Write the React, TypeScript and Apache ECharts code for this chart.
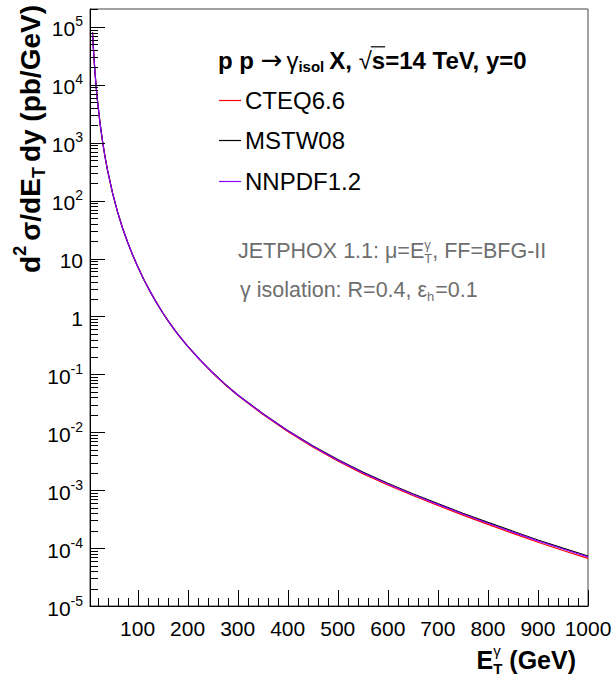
import React, { useEffect, useRef } from 'react';
import * as echarts from 'echarts';

// ---------------- data ----------------
const energies = [10, 12, 15, 17.5, 20, 25, 30, 35, 40, 50, 60, 70, 80, 90, 100, 112.5, 125, 137.5, 150, 162.5, 175, 187.5, 200, 225, 250, 275, 300, 350, 400, 450, 500, 550, 600, 650, 700, 750, 800, 850, 900, 950, 1000];
const cteq66 = [8.0e4, 3.9e4, 1.62e4, 8.9e3, 5.25e3, 2.18e3, 1.06e3, 573, 336, 136, 63.9, 33.7, 19.3, 11.6, 7.35, 4.35, 2.71, 1.75, 1.17, 0.809, 0.57, 0.415, 0.308, 0.176, 0.1057, 0.0663, 0.0434, 0.0205, 0.01035, 5.58e-3, 3.19e-3, 1.93e-3, 1.23e-3, 8.1e-4, 5.45e-4, 3.71e-4, 2.57e-4, 1.8e-4, 1.26e-4, 9.1e-5, 6.63e-5];
const mstw08 = [8.0e4, 3.9e4, 1.62e4, 8.9e3, 5.25e3, 2.18e3, 1.06e3, 573, 336, 136, 63.9, 33.7, 19.3, 11.6, 7.35, 4.35, 2.71, 1.75, 1.17, 0.809, 0.57, 0.415, 0.308, 0.178, 0.1075, 0.0677, 0.0446, 0.0212, 0.01078, 5.85e-3, 3.37e-3, 2.05e-3, 1.315e-3, 8.68e-4, 5.86e-4, 4.0e-4, 2.78e-4, 1.955e-4, 1.377e-4, 1.0e-4, 7.3e-5];
const nnpdf12 = [8.0e4, 3.9e4, 1.62e4, 8.9e3, 5.25e3, 2.18e3, 1.06e3, 573, 336, 136, 63.9, 33.7, 19.3, 11.6, 7.35, 4.35, 2.71, 1.75, 1.17, 0.809, 0.57, 0.415, 0.308, 0.177, 0.1067, 0.0671, 0.0441, 0.0209, 0.0106, 5.74e-3, 3.3e-3, 2.0e-3, 1.28e-3, 8.44e-4, 5.69e-4, 3.88e-4, 2.69e-4, 1.89e-4, 1.33e-4, 9.65e-5, 7.05e-5];

const seriesNames = ['CTEQ6.6', 'MSTW08', 'NNPDF1.2'];
const seriesColors = ['#ff0000', '#000000', '#9000ff'];

const xMin = 5;
const xMax = 1000;
const yMin = 1e-5;
const yMax = 2.04e5;
const xMajorTicks = [100, 200, 300, 400, 500, 600, 700, 800, 900, 1000];
const xMinorTicks = [20, 40, 60, 80, 120, 140, 160, 180, 220, 240, 260, 280, 320, 340, 360, 380, 420, 440, 460, 480, 520, 540, 560, 580, 620, 640, 660, 680, 720, 740, 760, 780, 820, 840, 860, 880, 920, 940, 960, 980];
const yDecades = [-5, -4, -3, -2, -1, 0, 1, 2, 3, 4, 5];
const yMinorMultipliers = [2, 3, 4, 5, 6, 7, 8, 9];

const FONT = "'Liberation Sans', Arial, Helvetica, sans-serif";
const FONT_SYM = "'DejaVu Sans', sans-serif";

// ---------------- text layout helpers ----------------
let ctx: CanvasRenderingContext2D | null = null;
function measure(text: string, size: number, bold?: boolean, fam?: string) {
  if (!ctx) ctx = document.createElement('canvas').getContext('2d');
  ctx!.font = `${bold ? 'bold ' : ''}${size}px ${fam || FONT}`;
  return ctx!.measureText(text).width;
}

type Piece = { t: string; size: number; bold?: boolean; dy?: number; stack?: boolean; overline?: boolean; fam?: string; gap?: number };

function run(pieces: Piece[], x0: number, y0: number, color: string, align: 'left' | 'right' = 'left') {
  const pos: { p: Piece; x: number; w: number }[] = [];
  let x = 0;
  let prevX = 0;
  let prevW = 0;
  for (const p of pieces) {
    const w = measure(p.t, p.size, p.bold, p.fam) + (p.gap || 0);
    if (p.stack) {
      pos.push({ p, x: prevX, w });
      prevW = Math.max(prevW, w);
      x = prevX + prevW;
    } else {
      pos.push({ p, x, w });
      prevX = x;
      prevW = w;
      x += w;
    }
  }
  const start = align === 'right' ? x0 - x : x0;
  const els: any[] = [];
  for (const { p, x: px, w } of pos) {
    els.push({
      type: 'text',
      x: start + px,
      y: y0 + (p.dy || 0),
      silent: true,
      style: {
        text: p.t,
        fontSize: p.size,
        fontWeight: p.bold ? 'bold' : 'normal',
        fontFamily: p.fam || FONT,
        fill: color,
        align: 'left',
        verticalAlign: 'middle',
      },
    });
    if (p.overline) {
      els.push({
        type: 'line',
        silent: true,
        shape: { x1: start + px - 1, y1: y0 - p.size * 0.55, x2: start + px + w, y2: y0 - p.size * 0.55 },
        style: { stroke: color, lineWidth: 1.2 },
      });
    }
  }
  return els;
}

export default function App() {
  const ref = useRef<HTMLDivElement>(null);

  useEffect(() => {
    const chart = echarts.init(ref.current!, null, { renderer: 'svg' });
    const allSeries = [cteq66, mstw08, nnpdf12];
    const option: any = {
      animation: false,
      backgroundColor: '#ffffff',
      textStyle: { fontFamily: FONT },
      grid: { left: 90, right: 28, top: 9, bottom: 75, show: true, borderColor: '#444', borderWidth: 1, backgroundColor: 'transparent' },
      xAxis: {
        type: 'value',
        min: xMin,
        max: xMax,
        splitNumber: 10,
        axisLine: { show: true, onZero: false, lineStyle: { color: '#000', width: 1 } },
        axisTick: { show: false },
        splitLine: { show: false },
        axisLabel: {
          show: true,
          showMinLabel: false,
          margin: 12,
          fontSize: 21,
          color: '#000',
          fontFamily: FONT,
          formatter: (v: number) => (xMajorTicks.indexOf(Math.round(v)) >= 0 && Math.abs(v - Math.round(v)) < 1e-6 ? String(Math.round(v)) : ''),
        },
      },
      yAxis: [
        {
          type: 'log',
          logBase: 10,
          min: yMin,
          max: yMax,
          axisLine: { show: true, onZero: false, lineStyle: { color: '#000', width: 1 } },
          axisTick: { show: false },
          axisLabel: { show: false },
          splitLine: { show: false },
        },
        {
          type: 'value',
          position: 'left',
          min: Math.log10(yMin),
          max: Math.log10(yMax),
          interval: 1,
          axisLine: { show: false },
          axisTick: { show: false },
          splitLine: { show: false },
          axisLabel: {
            show: true,
            margin: 7,
            color: '#000',
            fontFamily: FONT,
            formatter: (v: number) => {
              const k = Math.round(v);
              if (Math.abs(v - k) > 1e-6) return '';
              if (k === 0) return '{b|1}';
              if (k === 1) return '{b|10}';
              return `{b|10}{s|${k}}`;
            },
            rich: {
              b: { fontSize: 21, fontFamily: FONT, color: '#000', padding: [4, 0, 0, 0] },
              s: { fontSize: 14, fontFamily: FONT, color: '#000', verticalAlign: 'top' },
            },
          },
        },
      ],
      series: allSeries.map((vals, i) => ({
        name: seriesNames[i],
        type: 'line',
        xAxisIndex: 0,
        yAxisIndex: 0,
        showSymbol: false,
        symbol: 'none',
        smooth: false,
        clip: true,
        lineStyle: { color: seriesColors[i], width: 1.2 },
        data: energies.map((e, j) => [e, vals[j]]),
        z: 2 + i,
      })),
    };
    chart.setOption(option);

    const gx = (v: number) => chart.convertToPixel({ xAxisIndex: 0 }, v) as number;
    const gy = (v: number) => chart.convertToPixel({ yAxisIndex: 0 }, v) as number;
    const xAxisY = gy(yMin);
    const yAxisX = gx(xMin);

    const els: any[] = [];
    const tickStyle = { stroke: '#000', lineWidth: 1 };
    xMajorTicks.forEach((t) => {
      const X = Math.round(gx(t)) + 0.5;
      els.push({ type: 'line', silent: true, shape: { x1: X, y1: xAxisY, x2: X, y2: xAxisY - 16 }, style: tickStyle });
    });
    xMinorTicks.forEach((t) => {
      const X = Math.round(gx(t)) + 0.5;
      els.push({ type: 'line', silent: true, shape: { x1: X, y1: xAxisY, x2: X, y2: xAxisY - 8 }, style: tickStyle });
    });
    yDecades.forEach((k) => {
      const v = Math.pow(10, k);
      const Y = Math.round(gy(v)) + 0.5;
      els.push({ type: 'line', silent: true, shape: { x1: yAxisX, y1: Y, x2: yAxisX + 15, y2: Y }, style: tickStyle });
      yMinorMultipliers.forEach((m) => {
        const mv = m * v;
        if (mv > yMax) return;
        const Ym = Math.round(gy(mv)) + 0.5;
        els.push({ type: 'line', silent: true, shape: { x1: yAxisX, y1: Ym, x2: yAxisX + 8, y2: Ym }, style: tickStyle });
      });
    });

    // header
    els.push(
      ...run(
        [
          { t: 'p p ', size: 24, bold: true },
          { t: '\u2192', size: 26, fam: FONT_SYM, gap: 4 },
          { t: '\u03b3', size: 24 },
          { t: 'isol', size: 15, bold: true, dy: 6, gap: 5 },
          { t: 'X, ', size: 24, bold: true },
          { t: '\u221a', size: 24 },
          { t: 's', size: 24, bold: true, overline: true },
          { t: '=14 TeV, y=0', size: 24, bold: true },
        ],
        218,
        60,
        '#000'
      )
    );

    // legend entries
    const legendY = [100, 140, 181];
    seriesNames.forEach((name, i) => {
      els.push({ type: 'line', silent: true, shape: { x1: 219, y1: legendY[i] + 0.5, x2: 241, y2: legendY[i] + 0.5 }, style: { stroke: seriesColors[i], lineWidth: 1.2 } });
      els.push(...run([{ t: name, size: 24 }], 245, legendY[i], '#000'));
    });

    // grey annotations
    const grey = '#6e6e6e';
    els.push(
      ...run(
        [
          { t: 'JETPHOX 1.1: \u03bc=E', size: 21.5 },
          { t: '\u03b3', size: 13, dy: -7 },
          { t: 'T', size: 13, dy: 7, stack: true },
          { t: ', FF=BFG-II', size: 21.5 },
        ],
        238,
        251,
        grey
      )
    );
    els.push(
      ...run(
        [
          { t: '\u03b3 isolation: R=0.4, \u03b5', size: 21.5 },
          { t: 'h', size: 13, dy: 6, gap: 1 },
          { t: '=0.1', size: 21.5 },
        ],
        240,
        290,
        grey
      )
    );

    // x title
    els.push(
      ...run(
        [
          { t: 'E', size: 25, bold: true },
          { t: '\u03b3', size: 15, dy: -10, gap: 1 },
          { t: 'T', size: 15, bold: true, dy: 8, stack: true },
          { t: ' (GeV)', size: 25, bold: true },
        ],
        576,
        660,
        '#000',
        'right'
      )
    );

    // y title (rotated)
    els.push({
      type: 'group',
      x: 30,
      y: 5,
      rotation: Math.PI / 2,
      children: run(
        [
          { t: 'd', size: 28, bold: true },
          { t: '2', size: 18, bold: true, dy: -10, gap: 5 },
          { t: '\u03c3/dE', size: 28, bold: true },
          { t: 'T', size: 18, bold: true, dy: 9, gap: 5 },
          { t: 'dy (pb/GeV)', size: 28, bold: true },
        ],
        0,
        0,
        '#000',
        'right'
      ),
    });

    chart.setOption({ graphic: { elements: els.map((e) => ({ ...e, z: 100 })) } });

    return () => chart.dispose();
  }, []);

  return <div ref={ref} style={{ position: 'fixed', left: 0, top: 0, width: 616, height: 681, background: '#fff' }} />;
}
